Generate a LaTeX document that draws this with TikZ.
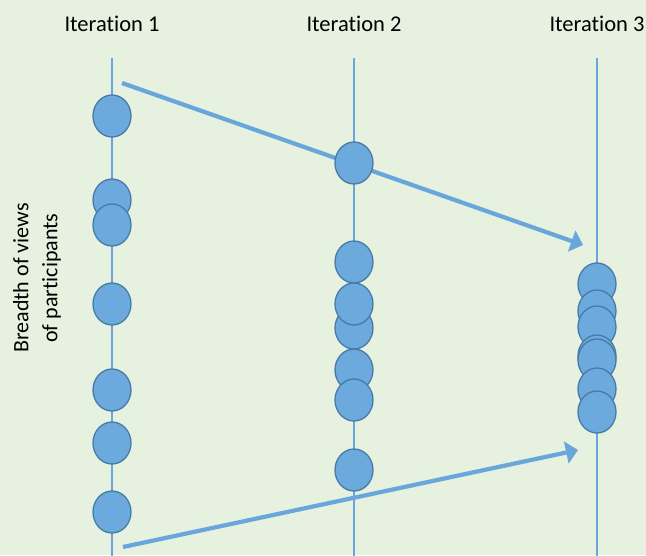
\documentclass[tikz,border=0pt]{standalone}
\usepackage{fontspec}
\setmainfont{Carlito}[Ligatures=NoCommon]
\usetikzlibrary{shapes.geometric,arrows.meta}
\definecolor{bgc}{RGB}{230,241,223}
\definecolor{linec}{RGB}{104,166,220}
\definecolor{fillc}{RGB}{108,169,220}
\definecolor{edgec}{RGB}{72,122,168}
\tikzset{
  part/.style={ellipse, draw=edgec, fill=fillc, line width=1.3pt, minimum width=38pt, minimum height=42pt, inner sep=0pt},
  timeline/.style={draw=linec, line width=2pt},
  trend/.style={draw=linec, line width=4.2pt, -{Triangle[length=12pt,width=22pt]}},
  title/.style={font=\fontsize{22.5}{26}\selectfont, text=black},
  axislabel/.style={font=\fontsize{22}{29}\selectfont, align=center, rotate=90, text=black}
}
\begin{document}
\begin{tikzpicture}[x=1pt,y=-1pt]
\useasboundingbox (0,0) rectangle (646,555);
\fill[bgc] (0,0) rectangle (646,555);
% titles
\node[title] (h1) at (112,24) {Iteration 1};
\node[title] (h2) at (354,24) {Iteration 2};
\node[title] (h3) at (597,24) {Iteration 3};
\node[axislabel] (ax) at (37,278) {Breadth of views\\of participants};
% timelines
\coordinate (t1) at (112,58); \coordinate (b1) at (112,556);
\coordinate (t2) at (354,58); \coordinate (b2) at (354,556);
\coordinate (t3) at (597,58); \coordinate (b3) at (597,556);
\draw[timeline] (t1) -- (b1);
\draw[timeline] (t2) -- (b2);
\draw[timeline] (t3) -- (b3);
% trend arrows
\coordinate (a1s) at (122,83); \coordinate (a1e) at (583,245);
\coordinate (a2s) at (123,547); \coordinate (a2e) at (578,450);
\draw[trend] (a1s) -- (a1e);
\draw[trend] (a2s) -- (a2e);
% iteration 1
\node[part] (p11) at (112,116) {};
\node[part] (p12) at (112,200) {};
\node[part] (p13) at (112,225) {};
\node[part] (p14) at (112,304) {};
\node[part] (p15) at (112,390) {};
\node[part] (p16) at (112,443) {};
\node[part] (p17) at (112,512) {};
% iteration 2
\node[part] (p21) at (354,163) {};
\node[part] (p22) at (354,262) {};
\node[part] (p24) at (354,328) {};
\node[part] (p23) at (354,304) {};
\node[part] (p25) at (354,370) {};
\node[part] (p26) at (354,400) {};
\node[part] (p27) at (354,470) {};
% iteration 3
\node[part] (p31) at (597,284) {};
\node[part] (p32) at (597,311) {};
\node[part] (p33) at (597,327) {};
\node[part] (p34) at (597,356) {};
\node[part] (p35) at (597,360) {};
\node[part] (p36) at (597,389) {};
\node[part] (p37) at (597,412) {};
\end{tikzpicture}
\end{document}
